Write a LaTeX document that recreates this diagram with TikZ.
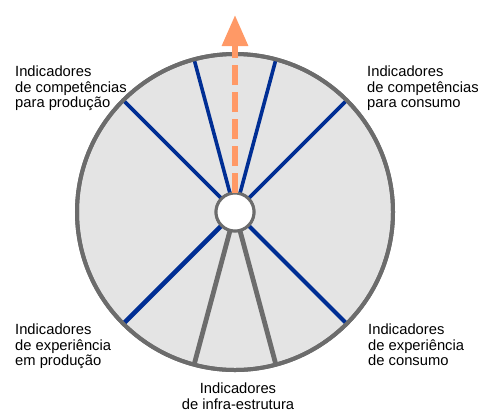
\documentclass[tikz,border=0pt]{standalone}
\usepackage{fontspec}
\setmainfont{Liberation Sans}
\usetikzlibrary{arrows.meta}

\definecolor{rimgray}{RGB}{108,108,108}
\definecolor{wheelfill}{RGB}{228,228,228}
\definecolor{spokeblue}{RGB}{0,46,148}
\definecolor{idealorange}{RGB}{255,153,102}

\begin{document}
\begin{tikzpicture}[x=1bp,y=1bp,
        rim/.style={circle,minimum size=316bp,inner sep=0pt,outer sep=0pt,
                fill=wheelfill,draw=rimgray,line width=4bp},
        hub/.style={circle,minimum size=38bp,inner sep=0pt,outer sep=0pt,
                fill=white,draw=rimgray,line width=3bp},
        labeltext/.style={inner sep=0pt,align=left,
                font=\fontsize{14.8}{15.3}\selectfont}]
        % fix the margins
        \useasboundingbox (0,0) rectangle (478,-413);
        \coordinate (c) at (235,-212);

        % the wheel and its hub
        \node[rim] (rim) at (c) {};
        \node[hub] (hub) at (c) {};

        % blue spokes
        \foreach \a/\w in {45/3.6, 75/3.6, 105/3.6, 135/3.6, 225/4.6, 315/4} {
                \draw[spokeblue,line width=\w bp] (hub.\a) -- (rim.\a);
        }
        % gray spokes
        \foreach \a in {255,285} {
                \draw[rimgray,line width=4.8bp] (hub.\a) -- (rim.\a);
        }

        % outlines on top of the spoke ends
        \draw[rimgray,line width=4bp] (c) circle (158);
        \draw[rimgray,line width=3bp,fill=white] (c) circle (19);

        % the ideal direction
        \coordinate (ideal) at (235,-15);
        \draw[idealorange,line width=6bp,dash pattern=on 20bp off 7bp,
                -{Triangle[width=25bp,length=31bp]}] (hub.north) -- (ideal);

        % labels
        \node[labeltext,anchor=north west] (compprod) at (15,-66)
                {Indicadores\\de competências\\para produção};
        \node[labeltext,anchor=north west] (compcons) at (367,-66)
                {Indicadores\\de competências\\para consumo};
        \node[labeltext,anchor=north west] (expprod) at (15,-324)
                {Indicadores\\de experiência\\em produção};
        \node[labeltext,anchor=north west] (expcons) at (368,-324)
                {Indicadores\\de experiência\\de consumo};
        \node[labeltext,align=center,anchor=north] (infra) at (238,-383)
                {Indicadores\\de infra-estrutura};
\end{tikzpicture}
\end{document}
